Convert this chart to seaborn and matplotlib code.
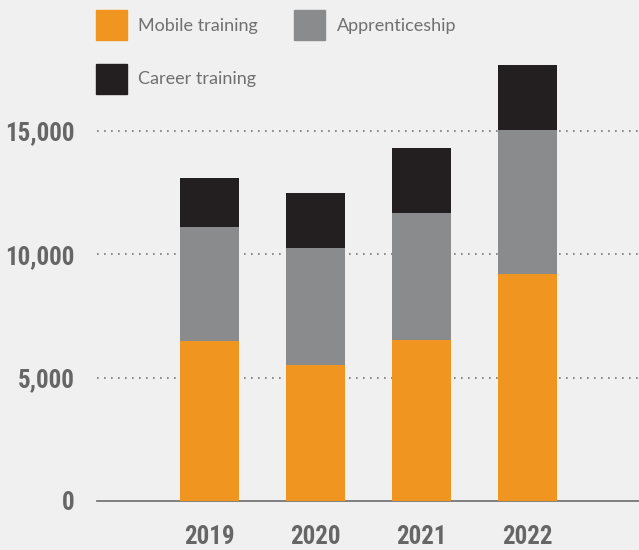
import numpy as np
import pandas as pd
import matplotlib.pyplot as plt
import seaborn as sns
from matplotlib.patches import Patch
from matplotlib import font_manager

years = ['2019', '2020', '2021', '2022']
mobile = [6500, 5530, 6540, 9190]
apprentice = [4600, 4710, 5130, 5850]
career = [2000, 2240, 2630, 2640]

c_mobile = '#f0951f'
c_appr = '#8a8b8c'
c_career = '#231f20'
bg = '#f0f0f0'
txt = '#666666'

sns.set_style("white")
plt.rcParams['font.family'] = ['DejaVu Sans']

# narrow font for the tick numbers, if one is installed
installed = {f.name for f in font_manager.fontManager.ttflist}
narrow = [('Liberation Sans Narrow', 18.5), ('DejaVu Sans Condensed', 16),
          ('Roboto Condensed', 18), ('Roboto', 15.5)]
tick_font, tick_size = next((n, s) for n, s in narrow if n in installed)

df = pd.DataFrame({'year': years, 'mobile': mobile,
                   'apprentice': apprentice, 'career': career})
df['lvl1'] = df['mobile']
df['lvl2'] = df['mobile'] + df['apprentice']
df['lvl3'] = df['lvl2'] + df['career']

fig = plt.figure(figsize=(6.39, 5.50), dpi=100, facecolor=bg)
ax = fig.add_axes([97 / 639, 49 / 550, 542 / 639, 501 / 550])
ax.set_facecolor(bg)

# stacked bars: draw totals back to front
bw = 59 / 106
for col, c in [('lvl3', c_career), ('lvl2', c_appr), ('lvl1', c_mobile)]:
    sns.barplot(data=df, x='year', y=col, color=c, width=bw,
                saturation=1, linewidth=0, ax=ax, zorder=3)

ax.set_xlim((97 - 209.5) / 106, (639 - 209.5) / 106)
ax.set_ylim(0, 501 / ((501 - 131) / 15000))
ax.set_xlabel('')
ax.set_ylabel('')

ax.set_yticks([0, 5000, 10000, 15000])
ax.set_yticklabels(['0', '5,000', '10,000', '15,000'])
for y in [5000, 10000, 15000]:
    ax.axhline(y, color='#777777', lw=1.2, ls=(0, (1, 3.2)), zorder=1)

for s in ['top', 'right', 'left']:
    ax.spines[s].set_visible(False)
ax.spines['bottom'].set_color('#777777')
ax.spines['bottom'].set_linewidth(1.3)

ax.tick_params(axis='both', length=0, colors=txt)
ax.tick_params(axis='x', pad=17)
ax.tick_params(axis='y', pad=16)
for lab in ax.get_xticklabels() + ax.get_yticklabels():
    lab.set_fontfamily([tick_font, 'DejaVu Sans'])
    lab.set_fontsize(tick_size)
    lab.set_fontweight('bold')
    lab.set_color(txt)

handles = [Patch(color=c_mobile, label='Mobile training'),
           Patch(color=c_career, label='Career training'),
           Patch(color=c_appr, label='Apprenticeship')]
leg = fig.legend(handles=handles, ncol=2, loc='upper left',
                 bbox_to_anchor=(96 / 639, 1 - 10 / 550), frameon=False,
                 prop={'family': 'Lato', 'size': 13},
                 handlelength=1.7, handleheight=2.2,
                 handletextpad=0.65, columnspacing=2.0, labelspacing=1.3,
                 borderaxespad=0, borderpad=0)
for t in leg.get_texts():
    t.set_color('#707070')

fig.savefig('out.png', dpi=100, facecolor=bg)
